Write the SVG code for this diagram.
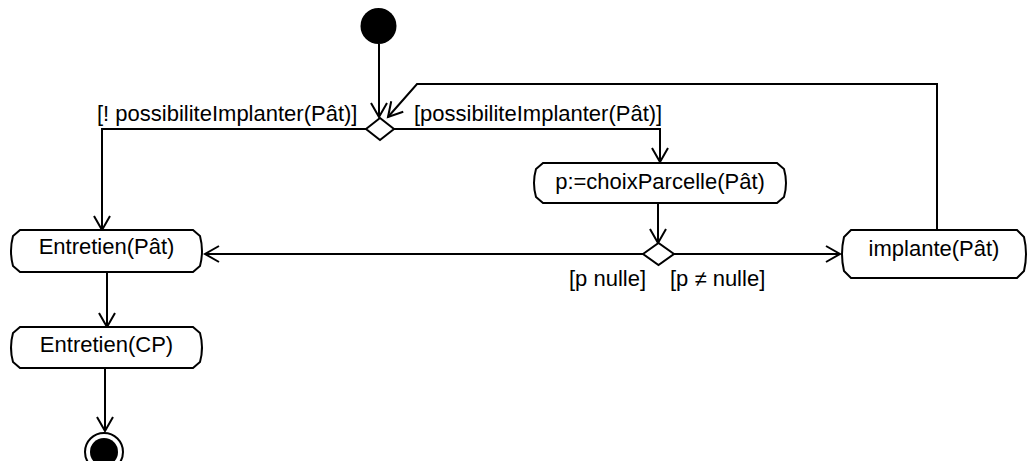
<svg xmlns="http://www.w3.org/2000/svg" width="1029" height="461" viewBox="0 0 1029 461">
<defs>
<style>
.node{fill:#fff;stroke:#000;stroke-width:2}
.lbl{font-family:"Liberation Sans",Arial,sans-serif;font-size:22px;fill:#000}
.c{fill:none;stroke:#000;stroke-width:2}
</style>
<marker id="arr" markerWidth="20" markerHeight="20" refX="15" refY="9" orient="auto" markerUnits="userSpaceOnUse">
<path d="M1,1 L15,9 L1,17" fill="none" stroke="#000" stroke-width="2"/>
</marker>
</defs>
<rect width="1029" height="461" fill="#fff"/>
<g id="connectors">
<path class="c" d="M379,44 L379,117" marker-end="url(#arr)"/>
<path class="c" d="M366,129 L102,129 L102,230" marker-end="url(#arr)"/>
<path class="c" d="M394,129 L660,129 L660,162" marker-end="url(#arr)"/>
<path class="c" d="M658,203 L658,243" marker-end="url(#arr)"/>
<path class="c" d="M643,254 L205,254" marker-end="url(#arr)"/>
<path class="c" d="M674,254 L840,254" marker-end="url(#arr)"/>
<path class="c" d="M937,230 L937,84 L417,84 L388,117" marker-end="url(#arr)"/>
<path class="c" d="M107,273 L107,327" marker-end="url(#arr)"/>
<path class="c" d="M105,368 L105,431" marker-end="url(#arr)"/>
</g>
<g id="start"><circle cx="378.5" cy="26" r="18" fill="#000"/></g>
<g id="decision1"><path class="node" d="M366,129 L380,118 L394,129 L380,140 Z"/></g>
<g id="decision2"><path class="node" d="M643,254 L658.5,243 L674,254 L658.5,265 Z"/></g>
<g id="entretienPat">
<path class="node" d="M20,230 L193,230 L200,236 Q204,251 200,266 L193,272 L20,272 L13,266 Q9,251 13,236 Z"/>
<text class="lbl" x="106.5" y="254" text-anchor="middle">Entretien(Pât)</text>
</g>
<g id="entretienCP">
<path class="node" d="M20,327 L193,327 L200,333 Q204,347.5 200,362 L193,368 L20,368 L13,362 Q9,347.5 13,333 Z"/>
<text class="lbl" x="106.5" y="352" text-anchor="middle">Entretien(CP)</text>
</g>
<g id="choixParcelle">
<path class="node" d="M543,163 L777,163 L784,169 Q788,183 784,197 L777,203 L543,203 L536,197 Q532,183 536,169 Z"/>
<text class="lbl" x="660" y="189" text-anchor="middle">p:=choixParcelle(Pât)</text>
</g>
<g id="implante">
<path class="node" d="M851,230 L1017,230 L1024,237 Q1028,254 1024,271 L1017,278 L851,278 L844,271 Q840,254 844,237 Z"/>
<text class="lbl" x="934" y="256" text-anchor="middle">implante(Pât)</text>
</g>
<g id="final">
<circle cx="104" cy="452" r="19" fill="#fff" stroke="#000" stroke-width="2"/>
<circle cx="104" cy="452" r="14" fill="#000"/>
</g>
<g id="labels">
<text class="lbl" x="97" y="121">[! possibiliteImplanter(Pât)]</text>
<text class="lbl" x="414" y="121">[possibiliteImplanter(Pât)]</text>
<text class="lbl" x="569" y="286">[p nulle]</text>
<text class="lbl" x="670" y="286">[p ≠ nulle]</text>
</g>
</svg>
